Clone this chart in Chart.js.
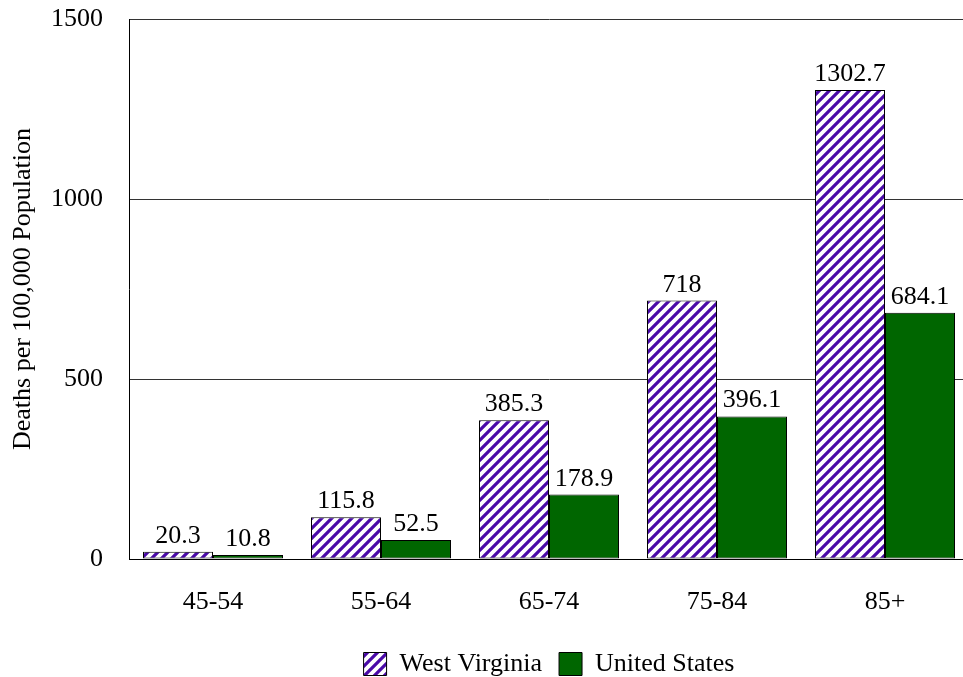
<!DOCTYPE html>
<html>
<head>
<meta charset="utf-8">
<script src="https://cdn.jsdelivr.net/npm/chart.js@4/dist/chart.umd.min.js"></script>
<style>
  html, body { margin: 0; padding: 0; background: #fff; overflow: hidden; }
  #wrap { width: 963px; height: 677px; overflow: hidden; }
  #box { width: 969px; height: 677px; }
</style>
</head>
<body>
<div id="wrap"><div id="box"><canvas id="c"></canvas></div></div>
<script>
const ageGroups = ['45-54', '55-64', '65-74', '75-84', '85+'];
const westVirginia = [20.3, 115.8, 385.3, 718, 1302.7];
const unitedStates = [10.8, 52.5, 178.9, 396.1, 684.1];
const yTicks = [0, 500, 1000, 1500];

const SERIF = '"Liberation Serif", "Times New Roman", serif';
const FONT_SIZE = 26;

// Diagonal purple stripes used for the West Virginia bars
function stripePattern(period, width) {
  const t = document.createElement('canvas');
  t.width = period; t.height = period;
  const g = t.getContext('2d');
  g.fillStyle = '#ffffff';
  g.fillRect(0, 0, period, period);
  g.strokeStyle = '#4a0aa8';
  g.lineWidth = width;
  g.lineCap = 'square';
  for (const o of [-period, 0, period]) {
    g.beginPath();
    g.moveTo(o, period);
    g.lineTo(o + period, 0);
    g.stroke();
  }
  return g.createPattern(t, 'repeat');
}

// Prints each bar's value just above it
const valueLabels = {
  id: 'valueLabels',
  afterDatasetsDraw(chart) {
    const ctx = chart.ctx;
    ctx.save();
    ctx.font = FONT_SIZE + 'px ' + SERIF;
    ctx.fillStyle = '#000';
    ctx.textAlign = 'center';
    ctx.textBaseline = 'alphabetic';
    chart.data.datasets.forEach((ds, i) => {
      chart.getDatasetMeta(i).data.forEach((bar, j) => {
        ctx.fillText(String(ds.data[j]), bar.x, bar.y - 9);
      });
    });
    ctx.restore();
  }
};

new Chart(document.getElementById('c'), {
  type: 'bar',
  data: {
    labels: ageGroups,
    datasets: [
      {
        label: 'West Virginia',
        data: westVirginia,
        backgroundColor: stripePattern(10, 3.2),
        borderColor: '#000',
        borderWidth: 1,
        borderSkipped: false
      },
      {
        label: 'United States',
        data: unitedStates,
        backgroundColor: '#006600',
        borderColor: '#000',
        borderWidth: 1,
        borderSkipped: false
      }
    ]
  },
  options: {
    responsive: true,
    maintainAspectRatio: false,
    animation: false,
    layout: { padding: { top: 19, right: 0, left: 0, bottom: -10 } },
    datasets: { bar: { categoryPercentage: 0.8333, barPercentage: 1 } },
    plugins: {
      legend: {
        position: 'bottom',
        fullSize: false,
        labels: {
          boxWidth: 23,
          boxHeight: 23,
          padding: 17,
          color: '#000',
          font: { family: SERIF, size: FONT_SIZE }
        }
      },
      tooltip: { enabled: false }
    },
    scales: {
      x: {
        afterFit(scale) { scale.height = 75; },
        grid: { display: false, drawTicks: false },
        border: { display: true, color: '#000', width: 1 },
        ticks: { color: '#000', padding: 28, font: { family: SERIF, size: FONT_SIZE } }
      },
      y: {
        min: 0,
        max: 1500,
        afterBuildTicks(scale) { scale.ticks = yTicks.map(v => ({ value: v })); },
        afterFit(scale) {
          scale.width = 129;
          scale.paddingTop = 0;
          scale.paddingBottom = 0;
        },
        grid: { color: '#333', lineWidth: 1, drawTicks: false },
        border: { display: true, color: '#000', width: 1 },
        ticks: {
          color: '#000',
          padding: 26,
          font: { family: SERIF, size: FONT_SIZE },
          callback: v => String(v)
        },
        title: {
          display: true,
          text: 'Deaths per 100,000 Population',
          color: '#000',
          padding: { top: 8, bottom: 0 },
          font: { family: SERIF, size: FONT_SIZE }
        }
      }
    }
  },
  plugins: [valueLabels]
});
</script>
</body>
</html>
